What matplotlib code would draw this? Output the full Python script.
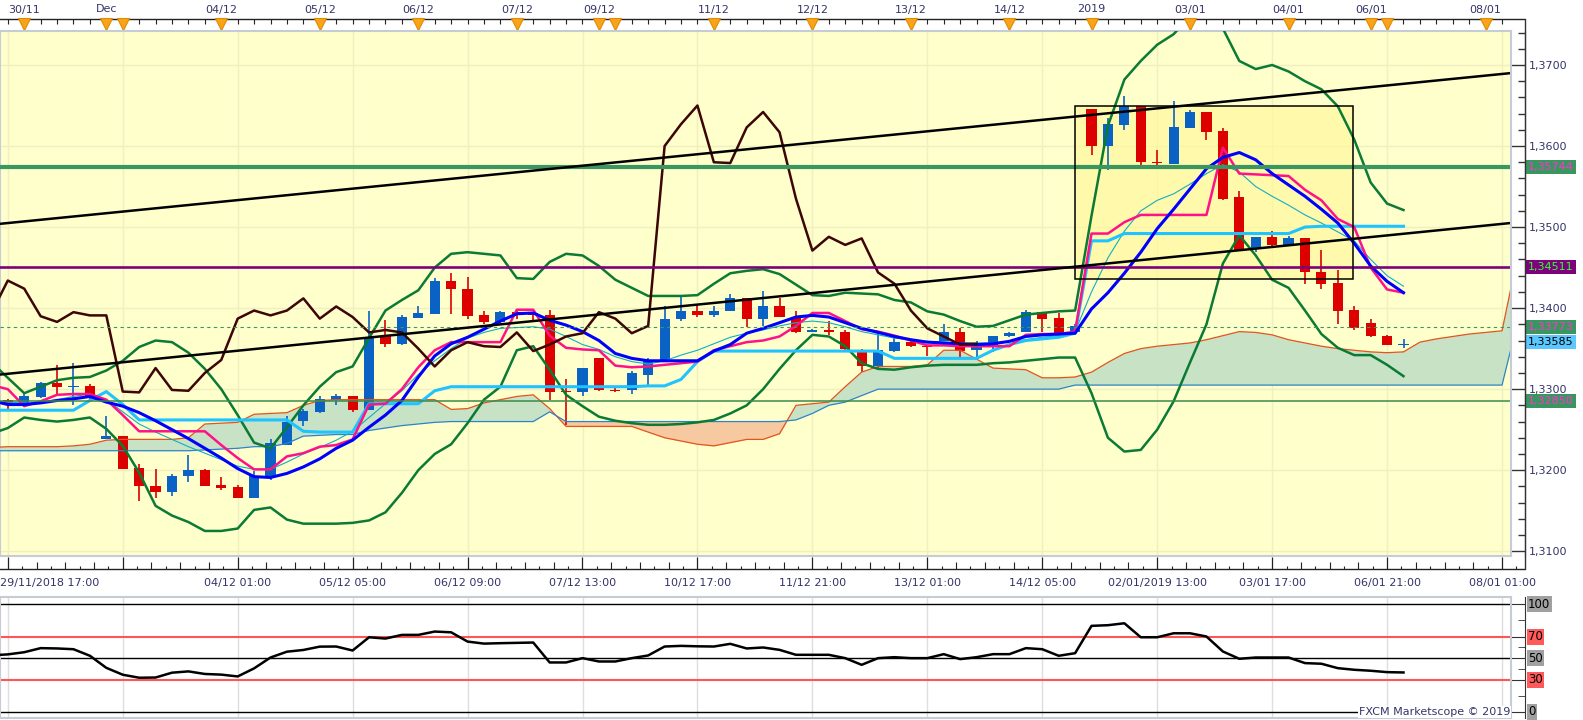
import matplotlib
matplotlib.use("Agg")
import matplotlib.pyplot as plt
import matplotlib.transforms as mtransforms
from matplotlib.lines import Line2D
from matplotlib.patches import Rectangle
from matplotlib.ticker import FuncFormatter, MultipleLocator, FixedLocator
import numpy as np

plt.rcParams['font.family'] = ['DejaVu Sans']

# 4H candles, index 0 = 29/11/2018 17:00
opens = [1.3286, 1.3281, 1.3290, 1.3308, 1.3303, 1.3304, 1.3239, 1.3242, 1.3203, 1.3181,
         1.3173, 1.3193, 1.3200, 1.3182, 1.3179, 1.3166, 1.3192, 1.3231, 1.3261, 1.3272,
         1.3287, 1.3292, 1.3274, 1.3365, 1.3356, 1.3388, 1.3393, 1.3434, 1.3424, 1.3391,
         1.3383, 1.3395, 1.3394, 1.3392, 1.3297, 1.3296, 1.3339, 1.3299, 1.3299, 1.3318,
         1.3334, 1.3387, 1.3397, 1.3391, 1.3397, 1.3412, 1.3387, 1.3402, 1.3388, 1.3370,
         1.3373, 1.3371, 1.3346, 1.3328, 1.3347, 1.3358, 1.3353, 1.3359, 1.3370, 1.3348,
         1.3355, 1.3365, 1.3370, 1.3395, 1.3388, 1.3370, 1.3646, 1.3600, 1.3626, 1.3650,
         1.3580, 1.3578, 1.3622, 1.3642, 1.3618, 1.3537, 1.3473, 1.3488, 1.3478, 1.3486,
         1.3445, 1.3431, 1.3398, 1.3382, 1.3366, 1.3354]
highs = [1.3288, 1.3294, 1.3309, 1.3330, 1.3332, 1.3306, 1.3267, 1.3242, 1.3208, 1.3201,
         1.3195, 1.3219, 1.3202, 1.3192, 1.3182, 1.3199, 1.3239, 1.3267, 1.3275, 1.3292,
         1.3294, 1.3292, 1.3397, 1.3385, 1.3391, 1.3402, 1.3437, 1.3443, 1.3439, 1.3397,
         1.3396, 1.3397, 1.3395, 1.3398, 1.3312, 1.3326, 1.3339, 1.3303, 1.3322, 1.3338,
         1.3402, 1.3414, 1.3405, 1.3402, 1.3418, 1.3412, 1.3421, 1.3412, 1.3397, 1.3374,
         1.3384, 1.3373, 1.3350, 1.3371, 1.3363, 1.3359, 1.3353, 1.3381, 1.3375, 1.3360,
         1.3365, 1.3370, 1.3398, 1.3395, 1.3394, 1.3380, 1.3646, 1.3634, 1.3662, 1.3650,
         1.3595, 1.3656, 1.3644, 1.3642, 1.3622, 1.3544, 1.3488, 1.3495, 1.3489, 1.3486,
         1.3472, 1.3447, 1.3402, 1.3387, 1.3367, 1.3362]
lows = [1.3276, 1.3279, 1.3289, 1.3294, 1.3280, 1.3287, 1.3239, 1.3202, 1.3162, 1.3166,
        1.3168, 1.3186, 1.3180, 1.3176, 1.3166, 1.3166, 1.3188, 1.3231, 1.3254, 1.3271,
        1.3281, 1.3272, 1.3274, 1.3352, 1.3354, 1.3388, 1.3393, 1.3393, 1.3387, 1.3381,
        1.3382, 1.3387, 1.3385, 1.3286, 1.3256, 1.3291, 1.3298, 1.3297, 1.3294, 1.3304,
        1.3334, 1.3384, 1.3389, 1.3389, 1.3397, 1.3377, 1.3378, 1.3389, 1.3369, 1.3370,
        1.3367, 1.3346, 1.3321, 1.3326, 1.3346, 1.3352, 1.3341, 1.3359, 1.3339, 1.3339,
        1.3346, 1.3364, 1.3370, 1.3371, 1.3368, 1.3370, 1.3589, 1.3570, 1.3620, 1.3575,
        1.3575, 1.3578, 1.3622, 1.3608, 1.3533, 1.3471, 1.3469, 1.3474, 1.3478, 1.3430,
        1.3424, 1.3380, 1.3373, 1.3364, 1.3354, 1.3351]
closes = [1.3282, 1.3291, 1.3308, 1.3303, 1.3304, 1.3291, 1.3242, 1.3202, 1.3180, 1.3173,
          1.3193, 1.3200, 1.3181, 1.3178, 1.3166, 1.3193, 1.3233, 1.3260, 1.3273, 1.3288,
          1.3292, 1.3274, 1.3363, 1.3356, 1.3389, 1.3394, 1.3434, 1.3424, 1.3390, 1.3383,
          1.3395, 1.3391, 1.3391, 1.3297, 1.3296, 1.3326, 1.3299, 1.3298, 1.3320, 1.3336,
          1.3387, 1.3397, 1.3391, 1.3397, 1.3412, 1.3387, 1.3402, 1.3389, 1.3370, 1.3373,
          1.3370, 1.3350, 1.3328, 1.3348, 1.3358, 1.3353, 1.3352, 1.3370, 1.3347, 1.3355,
          1.3365, 1.3369, 1.3395, 1.3387, 1.3369, 1.3378, 1.3600, 1.3627, 1.3650, 1.3580,
          1.3579, 1.3623, 1.3642, 1.3617, 1.3535, 1.3471, 1.3488, 1.3478, 1.3486, 1.3444,
          1.3430, 1.3397, 1.3375, 1.3365, 1.3355, 1.3356]

# indicator lines start one bar before the first candle (index -1 .. 85)
bb_upper = [1.3333,
            1.3314, 1.3295, 1.3303, 1.3311, 1.3314, 1.3315, 1.3323, 1.3335, 1.3352, 1.3360,
            1.3358, 1.3345, 1.3325, 1.3300, 1.3268, 1.3234, 1.3227, 1.3253, 1.3280, 1.3303,
            1.3321, 1.3328, 1.3363, 1.3397, 1.3410, 1.3422, 1.3450, 1.3467, 1.3469, 1.3467,
            1.3465, 1.3437, 1.3436, 1.3457, 1.3467, 1.3465, 1.3452, 1.3435, 1.3425, 1.3415,
            1.3415, 1.3415, 1.3416, 1.3430, 1.3443, 1.3446, 1.3448, 1.3442, 1.3429, 1.3416,
            1.3415, 1.3419, 1.3418, 1.3417, 1.3410, 1.3407, 1.3396, 1.3392, 1.3384, 1.3377,
            1.3378, 1.3385, 1.3392, 1.3394, 1.3396, 1.3397, 1.3514, 1.3625, 1.3682, 1.3705,
            1.3725, 1.3738, 1.3760, 1.3770, 1.3745, 1.3705, 1.3695, 1.3700, 1.3692, 1.3680,
            1.3670, 1.3649, 1.3608, 1.3555, 1.3529, 1.3521]
bb_lower = [1.3245,
            1.3252, 1.3265, 1.3262, 1.3260, 1.3262, 1.3265, 1.3251, 1.3230, 1.3197, 1.3156,
            1.3144, 1.3136, 1.3125, 1.3125, 1.3128, 1.3151, 1.3154, 1.3139, 1.3134, 1.3134,
            1.3134, 1.3135, 1.3138, 1.3148, 1.3172, 1.3200, 1.3220, 1.3232, 1.3258, 1.3287,
            1.3303, 1.3348, 1.3353, 1.3324, 1.3293, 1.3279, 1.3266, 1.3261, 1.3258, 1.3256,
            1.3256, 1.3257, 1.3259, 1.3262, 1.3270, 1.3280, 1.3300, 1.3325, 1.3348, 1.3367,
            1.3365, 1.3353, 1.3332, 1.3325, 1.3324, 1.3327, 1.3329, 1.3330, 1.3330, 1.3330,
            1.3332, 1.3333, 1.3335, 1.3337, 1.3339, 1.3339, 1.3295, 1.3240, 1.3223, 1.3225,
            1.3250, 1.3285, 1.3333, 1.3380, 1.3455, 1.3490, 1.3465, 1.3435, 1.3425, 1.3397,
            1.3368, 1.3351, 1.3342, 1.3342, 1.3330, 1.3316]
ma_blue = [1.3286,
           1.3281, 1.3281, 1.3283, 1.3286, 1.3288, 1.3291, 1.3284, 1.3279, 1.3271, 1.3261,
           1.3250, 1.3239, 1.3227, 1.3215, 1.3202, 1.3192, 1.3191, 1.3196, 1.3204, 1.3214,
           1.3227, 1.3237, 1.3253, 1.3268, 1.3286, 1.3315, 1.3341, 1.3356, 1.3364, 1.3374,
           1.3384, 1.3393, 1.3394, 1.3385, 1.3379, 1.3371, 1.3360, 1.3344, 1.3338, 1.3335,
           1.3335, 1.3335, 1.3335, 1.3347, 1.3355, 1.3369, 1.3375, 1.3382, 1.3389, 1.3391,
           1.3389, 1.3382, 1.3375, 1.3370, 1.3365, 1.3361, 1.3358, 1.3357, 1.3356, 1.3355,
           1.3356, 1.3359, 1.3365, 1.3367, 1.3368, 1.3369, 1.3399, 1.3419, 1.3443, 1.3469,
           1.3498, 1.3522, 1.3547, 1.3572, 1.3586, 1.3592, 1.3583, 1.3566, 1.3552, 1.3538,
           1.3522, 1.3505, 1.3480, 1.3452, 1.3433, 1.3419]
tenkan = [1.3305,
          1.3300, 1.3279, 1.3285, 1.3293, 1.3294, 1.3294, 1.3287, 1.3268, 1.3248, 1.3248,
          1.3248, 1.3248, 1.3248, 1.3231, 1.3215, 1.3201, 1.3201, 1.3217, 1.3221, 1.3229,
          1.3231, 1.3238, 1.3281, 1.3282, 1.3300, 1.3327, 1.3348, 1.3358, 1.3358, 1.3358,
          1.3358, 1.3398, 1.3398, 1.3366, 1.3351, 1.3349, 1.3348, 1.3329, 1.3327, 1.3328,
          1.3330, 1.3332, 1.3334, 1.3348, 1.3353, 1.3358, 1.3360, 1.3365, 1.3378, 1.3394,
          1.3394, 1.3384, 1.3374, 1.3371, 1.3366, 1.3360, 1.3354, 1.3354, 1.3353, 1.3353,
          1.3353, 1.3353, 1.3367, 1.3368, 1.3368, 1.3371, 1.3492, 1.3492, 1.3506, 1.3515,
          1.3515, 1.3515, 1.3515, 1.3515, 1.3598, 1.3566, 1.3565, 1.3564, 1.3563, 1.3546,
          1.3533, 1.3510, 1.3500, 1.3450, 1.3423, 1.3419]
kijun = [1.3274,
         1.3274, 1.3274, 1.3274, 1.3274, 1.3274, 1.3286, 1.3297, 1.3281, 1.3262, 1.3262,
         1.3262, 1.3262, 1.3262, 1.3262, 1.3262, 1.3262, 1.3262, 1.3262, 1.3248, 1.3247,
         1.3247, 1.3247, 1.3282, 1.3282, 1.3282, 1.3282, 1.3298, 1.3303, 1.3303, 1.3303,
         1.3303, 1.3303, 1.3303, 1.3303, 1.3303, 1.3303, 1.3303, 1.3303, 1.3303, 1.3304,
         1.3304, 1.3312, 1.3334, 1.3347, 1.3347, 1.3347, 1.3347, 1.3347, 1.3347, 1.3347,
         1.3347, 1.3347, 1.3347, 1.3347, 1.3338, 1.3338, 1.3338, 1.3338, 1.3338, 1.3338,
         1.3348, 1.3355, 1.3360, 1.3362, 1.3364, 1.3369, 1.3483, 1.3483, 1.3492, 1.3492,
         1.3492, 1.3492, 1.3492, 1.3492, 1.3492, 1.3492, 1.3492, 1.3492, 1.3492, 1.3500,
         1.3501, 1.3501, 1.3501, 1.3501, 1.3501, 1.3501]
ema_thin = [1.3286,
            1.3284, 1.3283, 1.3283, 1.3287, 1.3291, 1.3294, 1.3287, 1.3272, 1.3257, 1.3247,
            1.3238, 1.3229, 1.3221, 1.3213, 1.3205, 1.3201, 1.3201, 1.3210, 1.3220, 1.3228,
            1.3237, 1.3248, 1.3265, 1.3282, 1.3298, 1.3318, 1.3335, 1.3350, 1.3363, 1.3370,
            1.3375, 1.3376, 1.3377, 1.3374, 1.3365, 1.3355, 1.3349, 1.3340, 1.3334, 1.3331,
            1.3335, 1.3342, 1.3348, 1.3356, 1.3364, 1.3369, 1.3373, 1.3378, 1.3382, 1.3384,
            1.3382, 1.3377, 1.3371, 1.3367, 1.3363, 1.3361, 1.3359, 1.3358, 1.3357, 1.3357,
            1.3357, 1.3359, 1.3361, 1.3364, 1.3366, 1.3371, 1.3420, 1.3462, 1.3495, 1.3520,
            1.3533, 1.3541, 1.3553, 1.3566, 1.3577, 1.3568, 1.3550, 1.3538, 1.3527, 1.3515,
            1.3505, 1.3494, 1.3483, 1.3460, 1.3440, 1.3427]
rsi = [52.6,
       53.5, 55.5, 59.3, 59.0, 58.3, 52.2, 41.0, 34.6, 31.8, 32.0,
       36.5, 37.7, 35.3, 34.7, 33.0, 40.5, 50.6, 56.0, 57.6, 60.7,
       60.8, 57.1, 69.4, 68.2, 71.6, 71.6, 74.7, 74.0, 65.4, 63.5,
       63.9, 64.2, 64.5, 46.0, 46.0, 50.0, 46.9, 46.9, 50.0, 52.5,
       60.8, 61.4, 61.0, 60.8, 63.3, 59.0, 59.9, 57.7, 53.1, 53.1,
       53.1, 50.0, 43.8, 50.0, 50.9, 50.0, 50.0, 53.7, 49.1, 50.9,
       53.7, 53.7, 59.3, 58.3, 52.2, 54.6, 80.0, 80.6, 82.4, 69.4,
       69.4, 73.1, 73.1, 70.1, 56.2, 49.4, 50.6, 50.6, 50.6, 45.4,
       44.8, 40.7, 39.2, 38.3, 37.0, 36.7]
# ichimoku cloud, index -1 .. 92 (runs past the last candle)
senkou_a = [1.3228,
            1.3229, 1.3229, 1.3229, 1.3229, 1.3230, 1.3232, 1.3237, 1.3238, 1.3238, 1.3238,
            1.3238, 1.3240, 1.3257, 1.3258, 1.3259, 1.3269, 1.3270, 1.3271, 1.3280, 1.3286,
            1.3287, 1.3287, 1.3287, 1.3287, 1.3287, 1.3287, 1.3287, 1.3275, 1.3276, 1.3283,
            1.3287, 1.3291, 1.3293, 1.3276, 1.3254, 1.3254, 1.3254, 1.3254, 1.3254, 1.3247,
            1.3240, 1.3236, 1.3232, 1.3230, 1.3234, 1.3238, 1.3238, 1.3245, 1.3280, 1.3282,
            1.3284, 1.3303, 1.3321, 1.3328, 1.3328, 1.3328, 1.3330, 1.3348, 1.3348, 1.3337,
            1.3326, 1.3325, 1.3324, 1.3314, 1.3314, 1.3315, 1.3321, 1.3333, 1.3344, 1.3350,
            1.3353, 1.3355, 1.3357, 1.3361, 1.3366, 1.3371, 1.3370, 1.3367, 1.3361, 1.3357,
            1.3353, 1.3350, 1.3348, 1.3346, 1.3345, 1.3346, 1.3358, 1.3362, 1.3365, 1.3368,
            1.3370, 1.3372, 1.3469]
senkou_b = [1.3224,
            1.3224, 1.3224, 1.3224, 1.3224, 1.3224, 1.3224, 1.3224, 1.3224, 1.3224, 1.3224,
            1.3224, 1.3224, 1.3225, 1.3226, 1.3227, 1.3229, 1.3229, 1.3233, 1.3242, 1.3243,
            1.3244, 1.3244, 1.3249, 1.3252, 1.3255, 1.3257, 1.3259, 1.3260, 1.3260, 1.3260,
            1.3260, 1.3260, 1.3260, 1.3272, 1.3260, 1.3260, 1.3260, 1.3260, 1.3260, 1.3260,
            1.3260, 1.3260, 1.3260, 1.3260, 1.3260, 1.3260, 1.3260, 1.3260, 1.3262, 1.3270,
            1.3280, 1.3284, 1.3292, 1.3300, 1.3300, 1.3300, 1.3300, 1.3300, 1.3300, 1.3300,
            1.3300, 1.3300, 1.3300, 1.3300, 1.3300, 1.3305, 1.3305, 1.3305, 1.3305, 1.3305,
            1.3305, 1.3305, 1.3305, 1.3305, 1.3305, 1.3305, 1.3305, 1.3305, 1.3305, 1.3305,
            1.3305, 1.3305, 1.3305, 1.3305, 1.3305, 1.3305, 1.3305, 1.3305, 1.3305, 1.3305,
            1.3305, 1.3305, 1.3387]

# drawn levels
lvl_green = 1.35744
lvl_purple = 1.34511
lvl_dotted = 1.33773
lvl_low = 1.32850
last_price = 1.33585
trend_x = [-0.475, 91.53]
trend_upper = [1.3504, 1.3690]
trend_lower = [1.3318, 1.3505]
box_x = [65.0, 81.9]
box_y = [1.3436, 1.3650]

# axis labels
grid_pos = [0, 7, 14, 21, 28, 35, 42, 49, 56, 63, 70, 77, 84, 91]
bottom_labels = ['29/11/2018 17:00', '', '04/12 01:00', '05/12 05:00', '06/12 09:00',
                 '07/12 13:00', '10/12 17:00', '11/12 21:00', '13/12 01:00', '14/12 05:00',
                 '02/01/2019 13:00', '03/01 17:00', '06/01 21:00', '08/01 01:00']
top_pos = [1, 6, 13, 19, 25, 31, 36, 43, 49, 55, 61, 66, 72, 78, 83, 90]
top_labels = ['30/11', 'Dec', '04/12', '05/12', '06/12', '07/12', '09/12', '11/12',
              '12/12', '13/12', '14/12', '2019', '03/01', '04/01', '06/01', '08/01']
marker_extra = [7, 37, 84]

W, H = 1583, 720
X0, STEP = 7.8, 16.42          # pixel of bar 0, pixels per bar
PANEL_R, AXIS_R = 1511, 1525   # right edge of panels, right axis line
XMIN = -X0 / STEP
XMAX = (PANEL_R - X0) / STEP
XMAX_AX = (AXIS_R - X0) / STEP
TXT = '#34346a'
BORDER = '#c5ccd5'
OUT_PT = (AXIS_R - PANEL_R) * 0.72


def box(x0, y0, x1, y1):
    # pixel box, origin top-left -> figure fraction
    return [x0 / W, 1 - y1 / H, (x1 - x0) / W, (y1 - y0) / H]


fig = plt.figure(figsize=(W / 100, H / 100), dpi=100)
fig.patch.set_facecolor('white')
ax_top = fig.add_axes(box(0, 0, AXIS_R, 31))
ax = fig.add_axes(box(0, 31, PANEL_R, 556))
ax_time = fig.add_axes(box(0, 556, AXIS_R, 597))
ax_rsi = fig.add_axes(box(0, 597, PANEL_R, 718))

# right axis line runs from the date strip down to the time scale
fig.add_artist(Line2D([AXIS_R / W, AXIS_R / W], [1 - 19 / H, 1 - 569 / H],
                      transform=fig.transFigure, color='#333333', lw=1))

# ---------------- main price panel
ax.set_facecolor('#ffffcc')
ax.set_xlim(XMIN, XMAX)
ax.set_ylim(1.30941, 1.374195)
for s in ['left', 'top', 'bottom']:
    ax.spines[s].set_color(BORDER)
    ax.spines[s].set_linewidth(1.5)
ax.spines['right'].set_position(('outward', OUT_PT))
ax.spines['right'].set_color('#333333')
ax.plot([1, 1], [0, 1], transform=ax.transAxes, color=BORDER, lw=1.5, clip_on=False, zorder=10)
ax.yaxis.tick_right()
ax.yaxis.set_major_locator(MultipleLocator(0.01))
ax.yaxis.set_minor_locator(MultipleLocator(0.002))
ax.yaxis.set_major_formatter(FuncFormatter(lambda v, p: f'{v:.4f}'.replace('.', ',')))
ax.tick_params(axis='y', which='major', direction='in', length=OUT_PT, width=1,
               color='#333333', labelcolor=TXT, labelsize=8, pad=3)
ax.tick_params(axis='y', which='minor', direction='in', length=4.8, width=1, color='#333333')
ax.xaxis.set_major_locator(FixedLocator(grid_pos))
ax.tick_params(axis='x', bottom=False, labelbottom=False)
ax.grid(True, color='#efefc0', lw=1, zorder=0)
ax.set_axisbelow(True)

ix = np.arange(-1, len(bb_upper) - 1)      # indicator x (starts at -1)
cx = np.arange(-1, len(senkou_a) - 1)      # cloud x
sa = np.array(senkou_a)
sb = np.array(senkou_b)
ax.fill_between(cx, sa, sb, where=sa >= sb, interpolate=True, color='#c8e2c6', lw=0, zorder=1)
ax.fill_between(cx, sa, sb, where=sa < sb, interpolate=True, color='#f7c9a0', lw=0, zorder=1)
ax.plot(cx, sa, color='#e5541c', lw=0.9, zorder=4)
ax.plot(cx, sb, color='#2a84c8', lw=0.9, zorder=4)

# highlight box
ax.add_patch(Rectangle((box_x[0], box_y[0]), box_x[1] - box_x[0], box_y[1] - box_y[0],
                       fc='#fff7a0', ec='none', alpha=0.75, zorder=1.2))
ax.add_patch(Rectangle((box_x[0], box_y[0]), box_x[1] - box_x[0], box_y[1] - box_y[0],
                       fc='none', ec='black', lw=1.1, zorder=7))

# candles
xi = np.arange(len(opens))
o = np.array(opens)
c = np.array(closes)
col = np.where(c >= o, '#0a62c4', '#dc0000')
ax.vlines(xi, lows, highs, colors=col, lw=1.2, zorder=3)
body = np.maximum(np.abs(c - o), 0.00013)
ax.bar(xi, body, bottom=np.minimum(o, c), width=0.62, color=col, lw=0, zorder=3)

# indicators
ax.plot(ix, bb_upper, color='#0b7a34', lw=1.8, zorder=5)
ax.plot(ix, bb_lower, color='#0b7a34', lw=1.8, zorder=5)
ax.plot(ix, ema_thin, color='#12aec4', lw=0.8, zorder=5)
ax.plot(ix, kijun, color='#1ec3ff', lw=2.2, zorder=5)
ax.plot(ix, tenkan, color='#ff1288', lw=1.8, zorder=5)
ax.plot(ix, ma_blue, color='#0000ff', lw=2.2, zorder=5)
# chikou span: the closes drawn 26 bars back
chikou_x = np.arange(-1, len(closes) - 26)
ax.plot(chikou_x, closes[25:], color='#3d0505', lw=1.8, zorder=5)

# levels and trend lines
ax.axhline(lvl_green, color='#3a9660', lw=3, zorder=6)
ax.axhline(lvl_purple, color='#7d007d', lw=1.9, zorder=6)
ax.axhline(lvl_dotted, color='#3a9660', lw=0.8, ls=(0, (3, 3)), zorder=6)
ax.axhline(lvl_low, color='#3a8a4a', lw=1.1, zorder=6)
ax.plot(trend_x, trend_upper, color='black', lw=1.8, zorder=6)
ax.plot(trend_x, trend_lower, color='black', lw=1.8, zorder=6)

tr = mtransforms.blended_transform_factory(ax.transAxes, ax.transData)
lx = 1 + (1528 - PANEL_R) / PANEL_R
price_tags = [(lvl_green, '#3a9660', '#ff33cc'),
              (lvl_purple, '#7d007d', '#33ff33'),
              (lvl_dotted, '#3a9660', '#ff33cc'),
              (last_price, '#5ac8ff', 'black'),
              (lvl_low, '#3a9660', '#ff33cc')]
for val, fc, tc in price_tags:
    ax.text(lx, val, f'{val:.5f}'.replace('.', ','), transform=tr, ha='left', va='center',
            fontsize=8, color=tc, clip_on=False, zorder=20,
            bbox=dict(boxstyle='square,pad=0.18', fc=fc, ec='none'))

# ---------------- top date strip
ax_top.set_xlim(XMIN, XMAX_AX)
ax_top.set_ylim(31, 0)
ax_top.axis('off')
ax_top.plot([XMIN, XMAX_AX], [19, 19], color='#222222', lw=1)
ax_top.vlines(np.arange(0, 92), 19, 23.5, color='#222222', lw=0.8)
ax_top.vlines(top_pos + marker_extra, 19, 31, color='#222222', lw=0.8)
ax_top.plot(top_pos + marker_extra, [23.5] * (len(top_pos) + len(marker_extra)), 'v',
            ms=8, mfc='#f8a41a', mec='#e28a00', mew=0.8)
for p, t in zip(top_pos, top_labels):
    ax_top.text(p, 9.5, t, ha='center', va='center', fontsize=8, color=TXT)

# ---------------- bottom time strip (pixel rows from 556)
ax_time.set_xlim(XMIN, XMAX_AX)
ax_time.set_ylim(41, 0)
ax_time.axis('off')
ax_time.plot([XMIN, XMAX_AX], [13, 13], color='#222222', lw=1)
ax_time.vlines(grid_pos, 0.7, 13, color='#222222', lw=0.9)
sub = [g + 7 * k / 8 for g in grid_pos for k in range(1, 8) if g + 7 * k / 8 < XMAX_AX]
sub_top = [6.3 if round(((s % 7) / 7) * 8) % 2 == 0 else 9.7 for s in sub]
ax_time.vlines(sub, sub_top, 13, color='#222222', lw=0.8)
for p, t in zip(grid_pos, bottom_labels):
    if not t:
        continue
    if p == 0:
        ax_time.text(XMIN + 0.02, 26.7, t, ha='left', va='center', fontsize=8, color=TXT)
    else:
        ax_time.text(p, 26.7, t, ha='center', va='center', fontsize=8, color=TXT)

# ---------------- RSI panel
ax_rsi.set_facecolor('white')
ax_rsi.set_xlim(XMIN, XMAX)
ax_rsi.set_ylim(-5.6, 106.8)
for s in ['left', 'top', 'bottom']:
    ax_rsi.spines[s].set_color(BORDER)
    ax_rsi.spines[s].set_linewidth(1.5)
ax_rsi.spines['right'].set_position(('outward', OUT_PT))
ax_rsi.spines['right'].set_color('#333333')
ax_rsi.plot([1, 1], [0, 1], transform=ax_rsi.transAxes, color=BORDER, lw=1.5,
            clip_on=False, zorder=10)
ax_rsi.xaxis.set_major_locator(FixedLocator(grid_pos))
ax_rsi.tick_params(axis='x', bottom=False, labelbottom=False)
ax_rsi.grid(True, axis='x', color='#dedede', lw=1, zorder=0)
ax_rsi.yaxis.tick_right()
ax_rsi.yaxis.set_major_locator(FixedLocator([0, 30, 50, 70, 100]))
ax_rsi.yaxis.set_minor_locator(FixedLocator([15, 40, 60, 85]))
ax_rsi.tick_params(axis='y', which='major', direction='in', length=OUT_PT, color='#333333',
                   labelright=False)
ax_rsi.tick_params(axis='y', which='minor', direction='in', length=4.8, color='#333333')
for lv in [100, 50, 0]:
    ax_rsi.axhline(lv, color='black', lw=1, zorder=2)
for lv in [70, 30]:
    ax_rsi.axhline(lv, color='#ff5555', lw=1.5, zorder=2)
ax_rsi.plot(ix, rsi, color='black', lw=1.8, zorder=4)
tr2 = mtransforms.blended_transform_factory(ax_rsi.transAxes, ax_rsi.transData)
for lv, fc in [(100, '#a0a0a0'), (70, '#ff5a5a'), (50, '#a0a0a0'), (30, '#ff5a5a'), (0, '#a0a0a0')]:
    ax_rsi.text(lx, lv, str(lv), transform=tr2, ha='left', va='center', fontsize=8.5,
                color='black', clip_on=False, zorder=20,
                bbox=dict(boxstyle='square,pad=0.12', fc=fc, ec='none'))
ax_rsi.text(1 - 1 / PANEL_R, 0, 'FXCM Marketscope \u00a9 2019', transform=tr2, ha='right',
            va='center', fontsize=8, color=TXT, zorder=20,
            bbox=dict(boxstyle='square,pad=0.1', fc='white', ec='none'))

fig.savefig('out.png', dpi=100)
